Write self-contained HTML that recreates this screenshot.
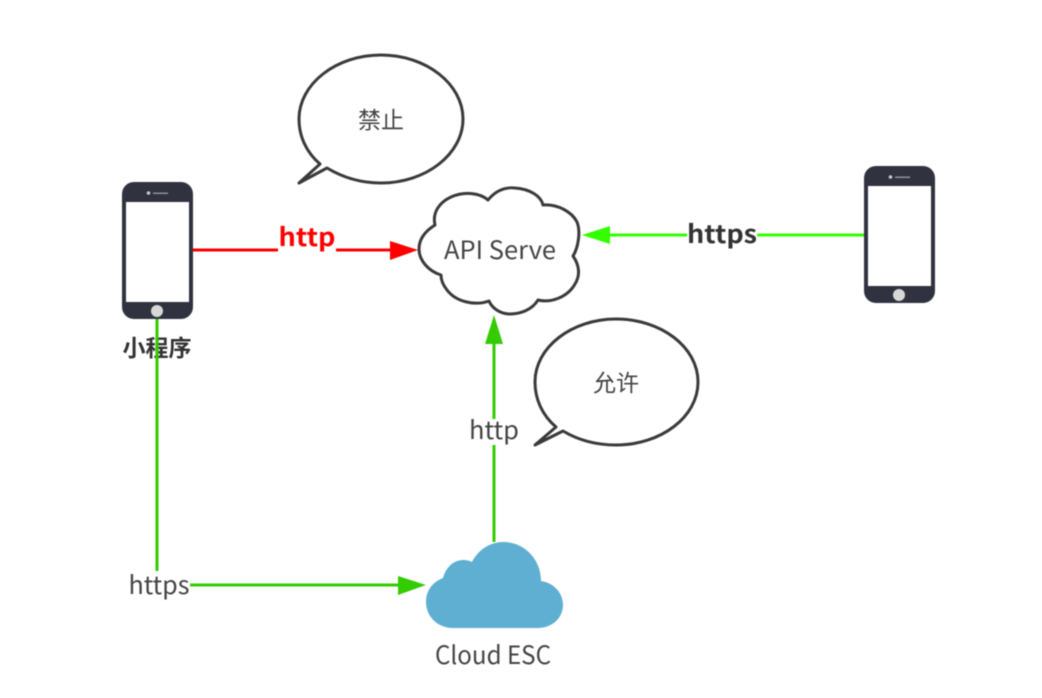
<!DOCTYPE html>
<html>
<head>
<meta charset="utf-8">
<style>
html,body{margin:0;padding:0;background:#fff;width:1042px;height:698px;overflow:hidden}
svg{display:block;filter:blur(.5px)}
text{font-family:"Noto Sans CJK SC","Liberation Sans",sans-serif;fill:#444;text-anchor:middle}
</style>
</head>
<body>
<svg width="1042" height="698" viewBox="0 0 1042 698" xmlns="http://www.w3.org/2000/svg">
<rect width="1042" height="698" fill="#fff"/>

<!-- connectors -->
<path d="M193 250H278M336 250H392" stroke="#ff0000" stroke-width="3" fill="none"/>
<polygon points="418,250 390,241 390,260" fill="#ff0000"/>
<path d="M864 235H757M687 235H608" stroke="#33ff00" stroke-width="3" fill="none"/>
<polygon points="582,235 610,226 610,244" fill="#33ff00"/>
<path d="M190 585H400" stroke="#33cc00" stroke-width="3" fill="none"/>
<polygon points="426,585 398,576 398,595" fill="#33cc00"/>
<path d="M494 542V445M494 419V342" stroke="#33cc00" stroke-width="3" fill="none"/>
<polygon points="494,315 485,344 503,344" fill="#33cc00"/>

<!-- left phone -->
<rect x="122" y="182" width="71" height="137" rx="12" fill="#30333f"/>
<rect x="126" y="202" width="63" height="100" fill="#fff"/>
<circle cx="157" cy="311" r="6" fill="#d8d8d8"/>
<circle cx="148.500" cy="193" r="1.800" fill="#c8c9cf"/>
<rect x="153" y="192.500" width="15" height="1.500" fill="#8e909a"/>

<!-- right phone -->
<rect x="864" y="166" width="71" height="137" rx="12" fill="#30333f"/>
<rect x="868" y="186" width="63" height="100" fill="#fff"/>
<circle cx="899" cy="295" r="6" fill="#d8d8d8"/>
<circle cx="890.500" cy="177" r="1.800" fill="#c8c9cf"/>
<rect x="895" y="176.500" width="15" height="1.500" fill="#8e909a"/>

<text x="157" y="356" font-size="23" font-weight="700" style="fill:#333" textLength="69" lengthAdjust="spacingAndGlyphs">小程序</text>
<path d="M157 319V571" stroke="#33cc00" stroke-width="3" fill="none"/>

<!-- API cloud -->
<path d="M488 200C496 190 506 187 515 188C530 189 541 196 543 205C558 204 572 212 577 222C581 232 578 248 573 256C580 266 580 276 575 284C567 298 550 303 538 300C532 310 520 314 510 314C500 314 492 308 489 301C475 306 456 302 447 290C443 285 441 280 441 275C428 271 419 260 419 249C419 238 427 230 435 225C432 212 440 202 451 197C465 191 480 193 488 200Z" fill="#fff" stroke="#3a3a3a" stroke-width="3" stroke-linejoin="round"/>
<text x="500" y="259" font-size="25" textLength="112" lengthAdjust="spacingAndGlyphs">API Serve</text>

<!-- speech bubble 1 -->
<path d="M320 164C306 152 299 136 299 119C299 84 336 55 381 55C426 55 463 84 463 119C463 154 426 183 381 183C359 183 342 177 327 168L299 183Z" fill="#fff" stroke="#3a3a3a" stroke-width="3" stroke-linejoin="round"/>
<text x="381" y="128" font-size="23">禁止</text>

<!-- speech bubble 2 -->
<path d="M556 427C542 415 535 399 535 382C535 347 572 319 616 319C661 319 698 347 698 382C698 417 661 445 616 445C595 445 578 440 563 431L535 445Z" fill="#fff" stroke="#3a3a3a" stroke-width="3" stroke-linejoin="round"/>
<text x="616" y="391" font-size="23">允许</text>

<!-- Cloud ESC -->
<path d="M453 628C437 628 426 616 426 602C426 590 433 582 443 578C446 567 454 560 463 560C467 560 470 561 472 562C478 550 490 542 503 542C525 542 541 560 541 581C554 583 563 593 563 605C563 618 552 628 538 628Z" fill="#5fafd3"/>
<text x="493" y="664" font-size="25" textLength="116" lengthAdjust="spacingAndGlyphs">Cloud ESC</text>

<!-- connector labels -->
<text x="307" y="246" font-size="25" font-weight="700" style="fill:#ff0000" textLength="57" lengthAdjust="spacingAndGlyphs">http</text>
<text x="722" y="243" font-size="25" font-weight="700" style="fill:#333" textLength="70" lengthAdjust="spacingAndGlyphs">https</text>
<text x="159" y="594" font-size="25" textLength="61" lengthAdjust="spacingAndGlyphs">https</text>
<text x="494" y="439" font-size="25" textLength="50" lengthAdjust="spacingAndGlyphs">http</text>
</svg>
</body>
</html>
